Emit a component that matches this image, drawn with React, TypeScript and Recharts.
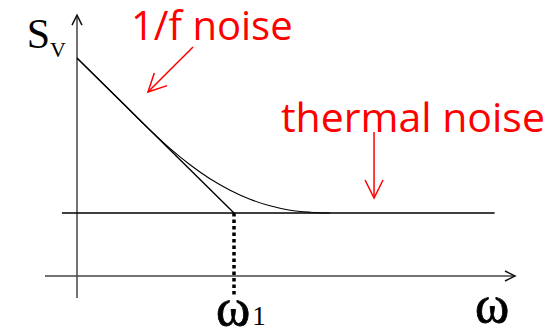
import { ComposedChart, Line, XAxis, YAxis, ReferenceDot } from "recharts";

// ω in units of the corner frequency ω1, S_V in units of the thermal floor
const CURVE_W = [0, 0.274, 0.465, 0.592, 0.72, 0.847, 0.975, 1.102, 1.229, 1.357, 1.484, 1.611];
const CURVE_S = [3.46, 2.787, 2.317, 2.025, 1.765, 1.543, 1.362, 1.219, 1.114, 1.044, 1.013, 1.0];

const FLICKER_W = [0, 1];
const FLICKER_S = [3.46, 1];

const THERMAL_W = [-0.096, 2.66];
const THERMAL_S = [1, 1];

const CORNER_W = [1, 1];
const CORNER_S = [1, -0.3];

const XAXIS_W = [-0.204, 2.79];
const XAXIS_S = [0, 0];
const YAXIS_W = [0, 0];
const YAXIS_S = [-0.35, 4.14];

// pointers from the red labels
const FLICKER_PTR_W = [0.739, 0.452];
const FLICKER_PTR_S = [3.635, 2.921];
const THERMAL_PTR_W = [1.892, 1.892];
const THERMAL_PTR_S = [2.286, 1.238];

const zip = (w: number[], s: number[]) => w.map((v, i) => ({ w: v, s: s[i] }));

const X_DOMAIN = [-0.4904, 3.0573];
const Y_DOMAIN = [-0.9048, 4.381];

const SERIF = "'Liberation Serif', 'DejaVu Serif', serif";
const SANS = "'Open Sans', 'Noto Sans', sans-serif";

// draws an open chevron at the last point of a line
const arrowDot = (len: number, half: number, color: string, width: number) => (props: any) => {
  const { index, points, cx, cy } = props;
  if (!points || index !== points.length - 1) return <g key={`d-${index}`} />;
  const p = points[index - 1];
  const dx = cx - p.x;
  const dy = cy - p.y;
  const L = Math.hypot(dx, dy) || 1;
  const ux = dx / L;
  const uy = dy / L;
  const bx = cx - ux * len;
  const by = cy - uy * len;
  const px = -uy * half;
  const py = ux * half;
  return (
    <path
      key={`d-${index}`}
      d={`M${bx + px},${by + py}L${cx},${cy}L${bx - px},${by - py}`}
      fill="none"
      stroke={color}
      strokeWidth={width}
    />
  );
};

const textShape = (content: any, opts: any) => (props: any) => (
  <text x={props.cx} y={props.cy} {...opts}>
    {content}
  </text>
);

export default function App() {
  return (
    <div style={{ position: "absolute", left: 0, top: 0, background: "#fff" }}>
      <ComposedChart width={557} height={333} margin={{ top: 0, right: 0, bottom: 0, left: 0 }}>
        <XAxis type="number" dataKey="w" domain={X_DOMAIN} allowDataOverflow hide />
        <YAxis type="number" dataKey="s" domain={Y_DOMAIN} allowDataOverflow hide />

        <Line data={zip(XAXIS_W, XAXIS_S)} dataKey="s" name="xaxis" type="linear" stroke="#444" strokeWidth={1.5}
          dot={arrowDot(10, 5, "#111", 1.5)} activeDot={false} isAnimationActive={false} />
        <Line data={zip(YAXIS_W, YAXIS_S)} dataKey="s" name="yaxis" type="linear" stroke="#444" strokeWidth={1.5}
          dot={arrowDot(10, 5, "#111", 1.5)} activeDot={false} isAnimationActive={false} />

        <Line data={zip(THERMAL_W, THERMAL_S)} dataKey="s" name="thermal" type="linear" stroke="#000" strokeWidth={1.4}
          dot={false} activeDot={false} isAnimationActive={false} />
        <Line data={zip(FLICKER_W, FLICKER_S)} dataKey="s" name="flicker" type="linear" stroke="#000" strokeWidth={1.4}
          dot={false} activeDot={false} isAnimationActive={false} />
        <Line data={zip(CURVE_W, CURVE_S)} dataKey="s" name="total" type="monotone" stroke="#000" strokeWidth={1.1}
          dot={false} activeDot={false} isAnimationActive={false} />
        <Line data={zip(CORNER_W, CORNER_S)} dataKey="s" name="corner" type="linear" stroke="#000" strokeWidth={3.5}
          strokeDasharray="3.5 3" dot={false} activeDot={false} isAnimationActive={false} />

        <Line data={zip(FLICKER_PTR_W, FLICKER_PTR_S)} dataKey="s" name="ptr1" type="linear" stroke="#f00" strokeWidth={1.5}
          dot={arrowDot(18, 9, "#f00", 1.5)} activeDot={false} isAnimationActive={false} />
        <Line data={zip(THERMAL_PTR_W, THERMAL_PTR_S)} dataKey="s" name="ptr2" type="linear" stroke="#f00" strokeWidth={1.5}
          dot={arrowDot(18, 9, "#f00", 1.5)} activeDot={false} isAnimationActive={false} />

        <ReferenceDot x={0.344} y={3.746} r={0} ifOverflow="visible"
          shape={textShape("1/f noise", { fill: "#f00", fontFamily: SANS, fontSize: 40 })} />
        <ReferenceDot x={1.299} y={2.29} r={0} ifOverflow="visible"
          shape={textShape("thermal noise", { fill: "#f00", fontFamily: SANS, fontSize: 41 })} />
        <ReferenceDot x={-0.32} y={3.619} r={0} ifOverflow="visible"
          shape={textShape(
            <>
              <tspan>S</tspan>
              <tspan fontSize={22} dy={9}>V</tspan>
            </>,
            { fill: "#000", fontFamily: SERIF, fontSize: 42 }
          )} />
        <ReferenceDot x={2.535} y={-0.73} r={0} ifOverflow="visible"
          shape={textShape("ω", { fill: "#000", fontFamily: SERIF, fontSize: 52, stroke: "#000", strokeWidth: 0.8 })} />
        <ReferenceDot x={0.885} y={-0.778} r={0} ifOverflow="visible"
          shape={textShape(
            <>
              <tspan stroke="#000" strokeWidth={0.8}>ω</tspan>
              <tspan fontSize={27} dx={2}>1</tspan>
            </>,
            { fill: "#000", fontFamily: SERIF, fontSize: 52 }
          )} />
      </ComposedChart>
    </div>
  );
}
